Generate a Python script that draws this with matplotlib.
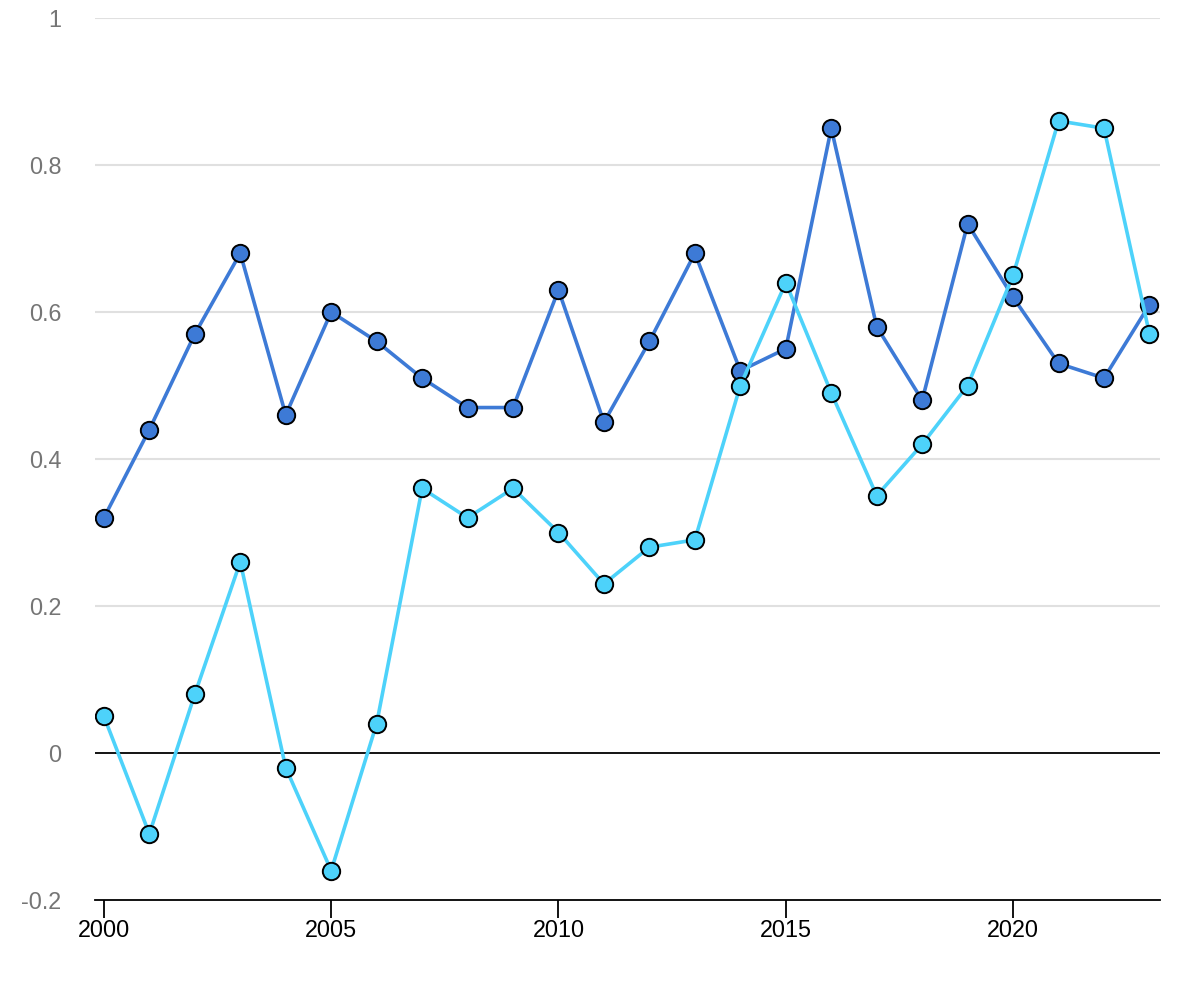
import matplotlib
matplotlib.use("Agg")
from matplotlib import pyplot as plt

plt.rcParams['font.family'] = ['Liberation Sans', 'DejaVu Sans']

years = list(range(2000, 2024))
dark = [0.32, 0.44, 0.57, 0.68, 0.46, 0.60, 0.56, 0.51, 0.47, 0.47, 0.63, 0.45,
        0.56, 0.68, 0.52, 0.55, 0.85, 0.58, 0.48, 0.72, 0.62, 0.53, 0.51, 0.61]
light = [0.05, -0.11, 0.08, 0.26, -0.02, -0.16, 0.04, 0.36, 0.32, 0.36, 0.30, 0.23,
         0.28, 0.29, 0.50, 0.64, 0.49, 0.35, 0.42, 0.50, 0.65, 0.86, 0.85, 0.57]
yticks = [-0.2, 0, 0.2, 0.4, 0.6, 0.8, 1.0]
ylabels = ["-0.2", "0", "0.2", "0.4", "0.6", "0.8", "1"]
xticks = [2000, 2005, 2010, 2015, 2020]

fig = plt.figure(figsize=(12, 10), dpi=100)
ax = fig.add_axes([0.079, 0.1, 0.888, 0.882])

for y in yticks[2:]:
    ax.axhline(y, color="#e0e0e0", lw=1.5, zorder=0)
ax.axhline(0, color="black", lw=1.3, zorder=1)

ax.plot(years, dark, c="#3d7ad6", lw=2.6, marker="o", ms=12.5,
        mfc="#3d7ad6", mec="black", mew=1.4, zorder=3)
ax.plot(years, light, c="#4dd2fa", lw=2.6, marker="o", ms=12.5,
        mfc="#4dd2fa", mec="black", mew=1.4, zorder=4)

ax.set_xlim(1999.8, 2023.24)
ax.set_ylim(-0.2, 1.0)
ax.set_yticks(yticks)
ax.set_yticklabels(ylabels)
ax.set_xticks(xticks)
ax.set_xticklabels([str(x) for x in xticks])

for s in ["top", "right", "left"]:
    ax.spines[s].set_visible(False)
ax.spines["bottom"].set_color("black")
ax.spines["bottom"].set_linewidth(1.3)

ax.tick_params(axis="y", length=0, pad=24, labelsize=16.8, labelcolor="#757575")
ax.tick_params(axis="x", length=13, width=1.3, pad=1, labelsize=16.8, labelcolor="black")

fig.savefig("out.png", dpi=100)
